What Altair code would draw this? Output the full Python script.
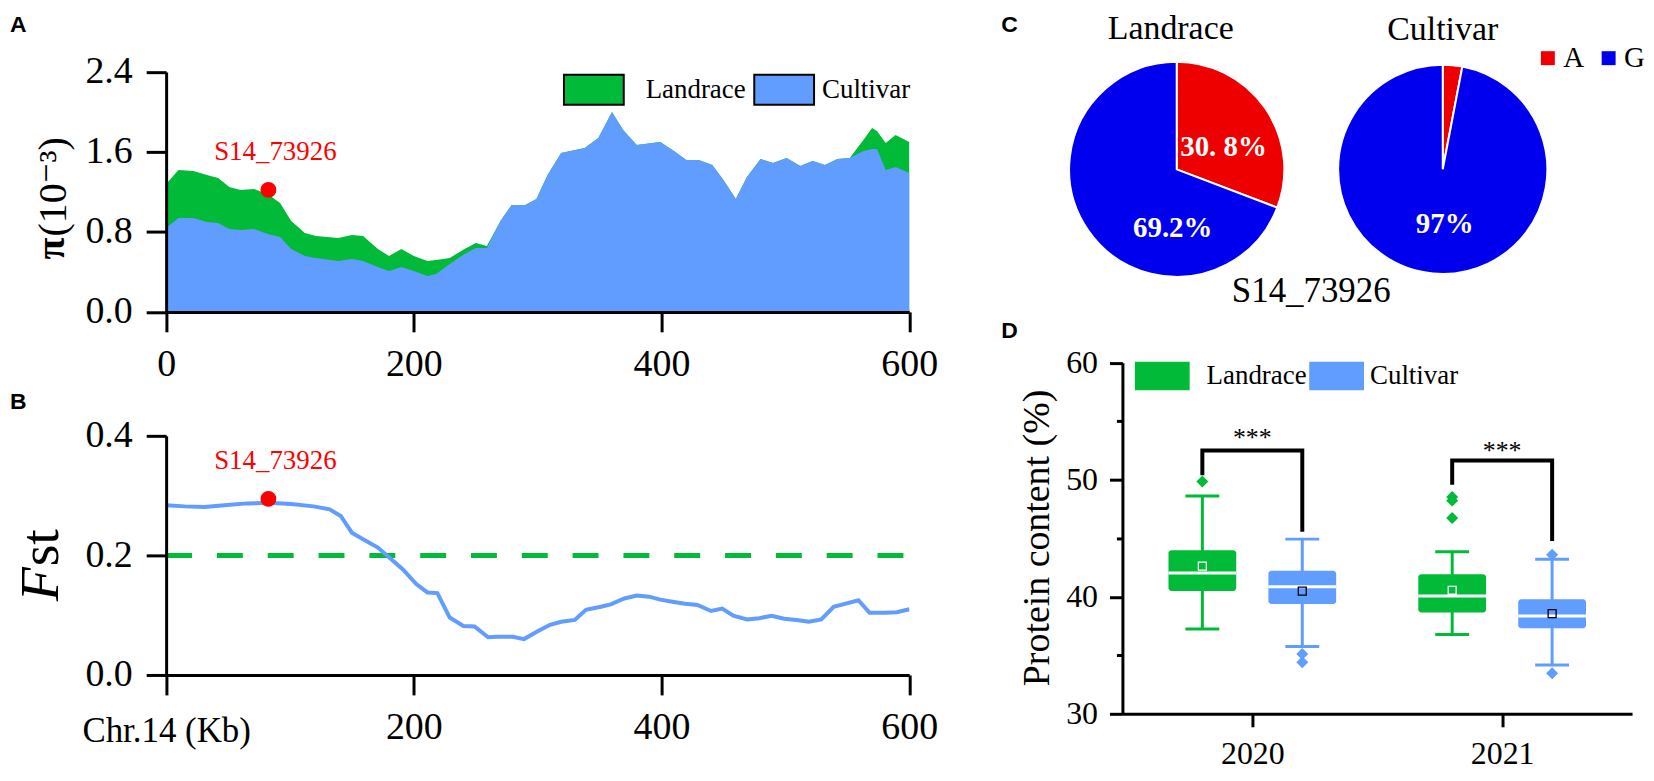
import altair as alt
import pandas as pd

# ---------------- Panel A: nucleotide diversity pi (x10^-3) ----------------
pi_kb = [0, 10, 22, 33, 42, 51, 60, 71, 82, 92, 101, 112, 121, 139, 150, 159, 171, 180, 190, 200,
         211, 218, 229, 241, 250, 259, 270, 279, 290, 299, 308, 319, 338, 349, 360, 369, 380, 399, 410, 420,
         430, 441, 450, 460, 469, 480, 490, 501, 512, 522, 532, 542, 552, 563, 570, 574, 581, 589, 600]
pi_cultivar = [0.84, 0.94, 0.94, 0.90, 0.89, 0.83, 0.82, 0.83, 0.78, 0.75, 0.63, 0.56, 0.54, 0.51, 0.53, 0.51, 0.45, 0.41, 0.45, 0.41,
               0.36, 0.38, 0.48, 0.58, 0.64, 0.64, 0.91, 1.07, 1.07, 1.13, 1.37, 1.59, 1.64, 1.74, 2.00, 1.82, 1.67, 1.70, 1.61, 1.52,
               1.52, 1.47, 1.32, 1.13, 1.35, 1.53, 1.49, 1.54, 1.46, 1.51, 1.47, 1.53, 1.54, 1.61, 1.63, 1.63, 1.42, 1.45, 1.39]
pi_landrace = [1.28, 1.42, 1.41, 1.37, 1.34, 1.25, 1.22, 1.23, 1.18, 1.09, 0.91, 0.79, 0.76, 0.74, 0.77, 0.76, 0.63, 0.56, 0.63, 0.56,
               0.51, 0.52, 0.54, 0.63, 0.69, 0.66, 0.91, 1.07, 1.07, 1.13, 1.37, 1.59, 1.64, 1.74, 2.00, 1.82, 1.67, 1.70, 1.61, 1.52,
               1.52, 1.47, 1.32, 1.13, 1.35, 1.53, 1.49, 1.54, 1.46, 1.51, 1.47, 1.53, 1.54, 1.72, 1.84, 1.81, 1.69, 1.77, 1.70]
pops = ["Landrace", "Cultivar"]
kb_ticks = [0, 200, 400, 600]
pi_ticks = [0, 0.8, 1.6, 2.4]

# ---------------- Panel B: Fst ----------------
fst_kb = [0, 15, 31, 47, 65, 83, 101, 119, 132, 141, 150, 159, 171, 182, 191, 202, 211, 219, 229, 240,
          249, 260, 268, 280, 289, 300, 310, 319, 330, 339, 351, 359, 370, 380, 390, 399, 410, 419, 429, 440,
          449, 458, 469, 479, 489, 499, 509, 519, 529, 539, 548, 559, 568, 580, 590, 600]
fst_val = [0.284, 0.282, 0.281, 0.284, 0.287, 0.288, 0.286, 0.282, 0.277, 0.266, 0.238, 0.227, 0.213, 0.193, 0.177, 0.152, 0.138, 0.137, 0.096, 0.082,
           0.081, 0.063, 0.064, 0.064, 0.060, 0.073, 0.084, 0.089, 0.092, 0.109, 0.114, 0.118, 0.128, 0.133, 0.131, 0.126, 0.122, 0.119, 0.117, 0.107,
           0.111, 0.099, 0.093, 0.095, 0.099, 0.094, 0.092, 0.089, 0.093, 0.114, 0.119, 0.125, 0.104, 0.104, 0.105, 0.110]
fst_ticks = [0, 0.2, 0.4]
fst_threshold = 0.2

snp_name = "S14_73926"
snp_kb = 82.6
snp_pi = 1.22
snp_fst = 0.2945

# ---------------- Panel C: allele frequencies ----------------
alleles = ["A", "G"]
freq_A = [30.8, 3.0]
freq_G = [69.2, 97.0]
pie_labels = ["30. 8%", "69.2%", "97%"]
pie_label_pop = ["Landrace", "Landrace", "Cultivar"]

# ---------------- Panel D: protein content ----------------
years = ["2020", "2021"]
box_year = ["2020", "2020", "2021", "2021"]
box_group = ["Landrace", "Cultivar", "Landrace", "Cultivar"]
box_lo = [37.24, 35.76, 36.78, 34.17]
box_q1 = [40.50, 39.38, 38.66, 37.32]
box_med = [42.03, 40.87, 40.07, 38.37]
box_q3 = [43.98, 42.22, 41.92, 39.79]
box_hi = [48.61, 44.93, 43.85, 43.20]
box_mean = [42.63, 40.49, 40.56, 38.57]
out_year = ["2020", "2020", "2020", "2021", "2021", "2021", "2021", "2021"]
out_group = ["Landrace", "Cultivar", "Cultivar", "Landrace", "Landrace", "Landrace", "Cultivar", "Cultivar"]
out_val = [49.86, 35.11, 34.40, 48.53, 48.22, 46.74, 43.59, 33.46]
br_year = ["2020"] * 4 + ["2021"] * 4
br_group = ["Landrace", "Landrace", "Cultivar", "Cultivar"] * 2
br_val = [50.38, 52.51, 52.51, 45.55, 49.58, 51.65, 51.65, 44.76]
br_step = [0, 1, 2, 3] * 2
sig_year = ["2020", "2021"]
sig_val = [54.1, 53.0]
sig_text = ["***", "***"]
prot_ticks = [30, 35, 40, 45, 50, 55, 60]

# ---------------- styling / layout ----------------
GREEN = "#00BA38"
BLUE = "#619CFF"
RED = "#FF0000"
PIE_RED = "#EE0000"
PIE_BLUE = "#0000EE"
SERIF = "Liberation Serif"
SANS = "Liberation Sans"
W, H = 1644, 765
pop_color = {"Landrace": GREEN, "Cultivar": BLUE}


def px(v):
    return v - 8


def ax(**kw):
    d = dict(domainColor="black", domainWidth=3, tickColor="black", tickWidth=3,
             labelColor="black", labelFont=SERIF, grid=False, zindex=1, labelFlush=False)
    d.update(kw)
    return alt.Axis(**d)


def box_legend(x_left, y_center, path, size, offset, stroke):
    extra = dict(symbolStrokeColor="black", symbolStrokeWidth=2) if stroke else dict(symbolStrokeWidth=0)
    return alt.Legend(title=None, orient="none", legendX=px(x_left), legendY=px(y_center) - size ** 0.5 / 2,
                      direction="horizontal", symbolType=path, symbolSize=size, symbolOpacity=1,
                      labelFont=SERIF, labelFontSize=27, labelColor="black", labelOffset=offset,
                      padding=0, labelLimit=400, **extra)


def one_color(field, p, legend):
    return alt.Color(field, scale=alt.Scale(domain=[p], range=[pop_color[p]]), legend=legend)


# ---------- Panel A ----------
xA = alt.X("kb:Q", title=None,
           scale=alt.Scale(domain=[0, 600], range=[px(166.7), px(912.5)], nice=False, zero=False),
           axis=ax(orient="bottom", offset=px(311.6) - H, values=kb_ticks, tickSize=20,
                   labelFontSize=38, labelPadding=14))
yA = alt.Y("pi:Q", title=None, stack=None,
           scale=alt.Scale(domain=[0, 2.4], range=[px(311.6), px(70.8)], nice=False, zero=False),
           axis=ax(orient="left", offset=-px(166.7), values=pi_ticks, format=".1f", tickSize=20,
                   labelFontSize=38, labelPadding=14))
RECT_A = "M-1,-0.5H1V0.5H-1Z"
legAL = box_legend(565, 87.7, RECT_A, 3600, 21, True)
legAC = box_legend(756, 87.7, RECT_A, 3600, 7, True)

n = len(pi_kb)
dfA = pd.DataFrame({"kb": pi_kb * 2, "pi": pi_landrace + pi_cultivar,
                    "pop": ["Landrace"] * n + ["Cultivar"] * n})
areaL = alt.Chart(dfA).transform_filter(alt.datum.pop == "Landrace").mark_area().encode(
    x=xA, y=yA, color=one_color("pop:N", "Landrace", legAL))
areaC = alt.Chart(dfA).transform_filter(alt.datum.pop == "Cultivar").mark_area().encode(
    x=xA, y=yA, color=one_color("pop:N", "Cultivar", legAC))
dfSnpA = pd.DataFrame({"kb": [snp_kb], "pi": [snp_pi], "name": [snp_name]})
dotA = alt.Chart(dfSnpA).mark_circle(size=254, color=RED, opacity=1).encode(x=xA, y=yA)
txtA = alt.Chart(dfSnpA).mark_text(font=SERIF, fontSize=27, color=RED, dx=7, dy=-30,
                                   baseline="alphabetic").encode(x=xA, y=yA, text="name:N")
panelA = alt.layer(areaL, areaC, dotA, txtA).resolve_scale(color="independent")

# ---------- Panel B ----------
is0 = "datum.value == 0"
xB = alt.X("kb:Q", title=None,
           scale=alt.Scale(domain=[0, 600], range=[px(166.7), px(912.5)], nice=False, zero=False),
           axis=ax(orient="bottom", offset=px(676) - H, values=kb_ticks, tickSize=20,
                   labelFontSize={"condition": {"test": is0, "value": 35}, "value": 38},
                   labelPadding={"condition": {"test": is0, "value": 19}, "value": 14},
                   labelExpr="datum.value == 0 ? 'Chr.14 (Kb)' : datum.label"))
yB = alt.Y("fst:Q", title=None,
           scale=alt.Scale(domain=[0, 0.4], range=[px(676), px(436)], nice=False, zero=False),
           axis=ax(orient="left", offset=-px(166.7), values=fst_ticks, format=".1f", tickSize=20,
                   labelFontSize=38, labelPadding=14))
dfB = pd.DataFrame({"kb": fst_kb, "fst": fst_val})
dfRule = pd.DataFrame({"kb": [kb_ticks[0]], "kb2": [kb_ticks[-1]], "fst": [fst_threshold]})
ruleB = alt.Chart(dfRule).mark_rule(color=GREEN, strokeWidth=5, strokeDash=[26, 25]).encode(
    x=xB, x2="kb2:Q", y=yB)
lineB = alt.Chart(dfB).mark_line(color=BLUE, strokeWidth=4).encode(x=xB, y=yB)
dfSnpB = pd.DataFrame({"kb": [snp_kb], "fst": [snp_fst], "name": [snp_name]})
dotB = alt.Chart(dfSnpB).mark_circle(size=254, color=RED, opacity=1).encode(x=xB, y=yB)
txtB = alt.Chart(dfSnpB).mark_text(font=SERIF, fontSize=27, color=RED, dx=7, dy=-30,
                                   baseline="alphabetic").encode(x=xB, y=yB, text="name:N")
panelB = alt.layer(ruleB, lineB, dotB, txtB)

# ---------- Panel C ----------
dfPie = pd.DataFrame({"pop": [p for p in pops for _ in alleles],
                      "allele": alleles * 2,
                      "pct": [v for pair in zip(freq_A, freq_G) for v in pair]})
PIE_CY = px(168.5)
xC = alt.X("pop:N", title=None, axis=None,
           scale=alt.Scale(type="point", domain=pops, range=[px(1181), px(1448)], padding=0))
legC = alt.Legend(title=None, orient="none", legendX=px(1539), legendY=px(56.7) - 14.5,
                  direction="horizontal", symbolType="square", symbolSize=196, symbolOpacity=1,
                  symbolStrokeWidth=0,
                  labelFont=SERIF, labelFontSize=29, labelColor="black", labelOffset=1,
                  columnPadding=10, padding=0)
colC = alt.Color("allele:N", scale=alt.Scale(domain=alleles, range=[PIE_RED, PIE_BLUE]), legend=legC)
thetaC = alt.Theta("pct:Q", stack=True, scale=alt.Scale(domain=[0, 100], range=[0, 6.283185307]))


def pie(p, r):
    return alt.Chart(dfPie).transform_filter(alt.datum.pop == p).mark_arc(
        radius=r, stroke="white", strokeWidth=2).encode(
        x=xC, y=alt.value(PIE_CY), theta=thetaC, color=colC,
        order=alt.Order("allele:N", sort="ascending"))


pie_offsets = [(47, -13.5), (-4, 68), (2, 64)]
pie_text_layers = []
for lab, lp, (ddx, ddy) in zip(pie_labels, pie_label_pop, pie_offsets):
    d = pd.DataFrame({"pop": [lp], "lab": [lab]})
    pie_text_layers.append(
        alt.Chart(d).mark_text(font=SERIF, fontWeight="bold", fontSize=29, color="white",
                               dx=ddx, dy=ddy, baseline="alphabetic").encode(
            x=xC, y=alt.value(PIE_CY), text="lab:N"))

title_offsets = {"Landrace": (-6, 38 - 168.5), "Cultivar": (0, 39 - 168.5)}
title_layers = []
for p in pops:
    d = pd.DataFrame({"pop": [p]})
    tdx, tdy = title_offsets[p]
    title_layers.append(
        alt.Chart(d).mark_text(font=SERIF, fontSize=34, color="black", dx=tdx, dy=tdy,
                               baseline="alphabetic").encode(x=xC, y=alt.value(PIE_CY), text="pop:N"))

panelC = alt.layer(pie("Landrace", 108), pie("Cultivar", 105), *pie_text_layers, *title_layers)

# ---------- Panel D ----------
yr_list = "[" + ",".join("'%s'" % y for y in years) + "]"
pos_expr = "indexof(%s, datum.year) + 1 + (datum.group == 'Landrace' ? -0.2 : 0.2)" % yr_list
xD = alt.X("pos:Q", title=None,
           scale=alt.Scale(domain=[0.5, 2.5], range=[px(1126.5), px(1638)], nice=False, zero=False),
           axis=ax(orient="bottom", offset=px(715) - H, values=[1, 2], tickSize=13,
                   labelFontSize=32, labelPadding=12,
                   labelExpr="%s[datum.value - 1]" % yr_list))
scaleYD = alt.Scale(domain=[30, 60], range=[px(715), px(362.7)], nice=False, zero=False)
axisYD = ax(orient="left", offset=-px(1126.5), values=prot_ticks,
            tickSize={"condition": {"test": "datum.value % 10 == 0", "value": 13}, "value": 6},
            labelExpr="datum.value % 10 == 0 ? datum.label : ''",
            labelFontSize=32, labelPadding=12)


def yD(field):
    return alt.Y(field, title=None, scale=scaleYD, axis=axisYD)


RECT_D = "M-1,-0.52H1V0.52H-1Z"
legDL = box_legend(1139, 376, RECT_D, 3025, 17, False)
legDC = box_legend(1314, 376, RECT_D, 3025, 6, False)
colD = alt.Color("group:N", scale=alt.Scale(domain=pops, range=[GREEN, BLUE]), legend=None)

dfBox = pd.DataFrame({"year": box_year, "group": box_group, "lo": box_lo, "q1": box_q1,
                      "med": box_med, "q3": box_q3, "hi": box_hi, "mean": box_mean})
dfOut = pd.DataFrame({"year": out_year, "group": out_group, "v": out_val})
dfBr = pd.DataFrame({"year": br_year, "group": br_group, "v": br_val, "step": br_step})
dfSig = pd.DataFrame({"year": sig_year, "v": sig_val, "t": sig_text})

base = alt.Chart(dfBox).transform_calculate(pos=pos_expr)
whisk = base.mark_rule(strokeWidth=3).encode(x=xD, y=yD("lo:Q"), y2="hi:Q", color=colD)
caps = base.transform_fold(["lo", "hi"], as_=["k", "cap"]).mark_tick(
    orient="horizontal", size=34, thickness=3, opacity=1).encode(x=xD, y=yD("cap:Q"), color=colD)
boxL = base.transform_filter(alt.datum.group == "Landrace").mark_bar(
    width=68, cornerRadius=3, opacity=1).encode(
    x=xD, y=yD("q1:Q"), y2="q3:Q", color=one_color("group:N", "Landrace", legDL))
boxC = base.transform_filter(alt.datum.group == "Cultivar").mark_bar(
    width=68, cornerRadius=3, opacity=1).encode(
    x=xD, y=yD("q1:Q"), y2="q3:Q", color=one_color("group:N", "Cultivar", legDC))
meds = base.mark_tick(orient="horizontal", size=68, thickness=3, color="white", opacity=1).encode(
    x=xD, y=yD("med:Q"))
means = base.mark_point(shape="square", size=64, filled=False, strokeWidth=1.3, opacity=1).encode(
    x=xD, y=yD("mean:Q"),
    stroke=alt.Stroke("group:N", scale=alt.Scale(domain=pops, range=["white", "black"]), legend=None))
outs = alt.Chart(dfOut).transform_calculate(pos=pos_expr).mark_point(
    shape="diamond", size=144, filled=True, opacity=1).encode(x=xD, y=yD("v:Q"), color=colD)
brs = alt.Chart(dfBr).transform_calculate(pos=pos_expr).mark_line(
    color="black", strokeWidth=4).encode(x=xD, y=yD("v:Q"), detail="year:N", order="step:Q")
sigs = alt.Chart(dfSig).transform_calculate(pos="indexof(%s, datum.year) + 1" % yr_list).mark_text(
    font=SERIF, fontSize=26, color="black", dy=6).encode(x=xD, y=yD("v:Q"), text="t:N")
panelD = alt.layer(whisk, caps, boxL, boxC, meds, means, outs, brs, sigs).resolve_scale(color="independent")


# ---------- free annotations ----------
def note(text, x, y, size, font=SERIF, weight="normal", style="normal", angle=0,
         align="left", baseline="alphabetic", color="black"):
    return alt.Chart(alt.Data(values=[{"t": text}])).mark_text(
        fontSize=size, font=font, fontWeight=weight, fontStyle=style, angle=angle,
        align=align, baseline=baseline, color=color).encode(
        x=alt.value(px(x)), y=alt.value(px(y)), text="t:N")


notes = [
    note("A", 10, 31, 23, font=SANS, weight="bold"),
    note("B", 10, 409, 23, font=SANS, weight="bold"),
    note("C", 1005, 30.7, 23, font=SANS, weight="bold"),
    note("D", 1005, 338.3, 23, font=SANS, weight="bold"),
    note("π", 64, 259, 40, font=SERIF + ", DejaVu Serif", weight="bold", angle=270),
    note("(10⁻³)", 66, 236, 40, font=SERIF + ", DejaVu Serif", angle=270),
    note("F", 58, 602, 56, style="italic", angle=270),
    note("st", 58, 567, 56, angle=270),
    note("Protein content (%)", 1053, 538.5, 38, angle=270, align="center"),
    note(snp_name, 1316, 302, 35, align="center"),
]

chart = alt.layer(panelA, panelB, panelC, panelD, *notes).resolve_scale(
    x="independent", y="independent", color="independent", theta="independent",
    stroke="independent").properties(
    width=W, height=H, autosize=alt.AutoSizeParams(type="none"), padding=0,
    background="white").configure_view(stroke=None)

chart.save("out.html", embed_options={"renderer": "svg", "actions": False})
